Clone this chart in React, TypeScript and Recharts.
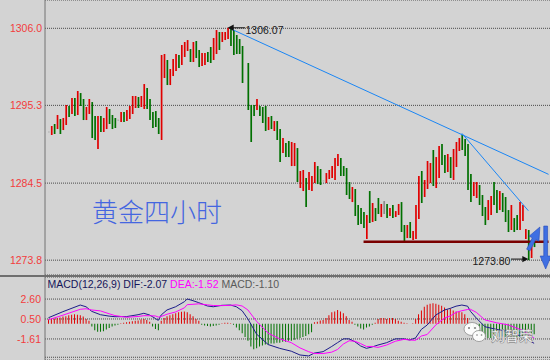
import React from "react";
import {
  Bar,
  CartesianGrid,
  Cell,
  ComposedChart,
  Line,
  ReferenceLine,
  XAxis,
  YAxis,
} from "recharts";

const FONT = '"Liberation Sans", Arial, sans-serif';

// price pane ticks, macd pane ticks (last macd one is a grid line without label)
const priceTicks = [1273.8, 1284.5, 1295.3, 1306.0];
const macdTicks = [-3.54, -1.61, 0.5, 2.6];
const macdUnlabeled = -3.54;

// 4h candles, one per slot (null = empty slot)
const highs = [
  1291.65, 1292.43, 1292.71, 1293.96, 1293.4, 1293.54, 1295.35, 1295.21, 1296.32, 1296.32,
  1297.29, 1297.01, 1296.18, 1295.07, 1296.18, 1295.76, 1293.82, 1293.82, 1293.82, 1293.54,
  1295.07, 1294.79, 1293.96, 1293.54, 1293.3, 1294.37, 1294.37, 1294.65, 1295.21, 1296.6,
  1296.6, 1296.46, 1296.6, 1298.26, 1297.71, 1296.18, 1294.37, 1294.51, 1293.54, 1302.29,
  1302.43, 1301.6, 1300.35, 1301.74, 1302.43, 1302.29, 1303.68, 1304.1, 1304.37, 1303.12,
  1304.1, 1304.24, 1302.99, 1302.57, 1302.57, 1302.71, 1303.4, 1304.65, 1305.76, 1305.49,
  1305.49, 1305.49, 1306.07, 1305.95, 1305.76, 1305.07, 1304.51, 1303.54, null, 1301.18,
  1295.35, 1295.35, 1296.18, 1295.21, 1295.07, 1295.21, 1293.68, 1293.82, 1293.12, 1293.12,
  1292.01, 1290.76, 1290.07, 1290.35, 1290.21, 1290.07, 1289.37, 1286.18, 1286.32, 1285.21,
  1286.04, 1285.49, 1287.43, 1286.87, 1286.46, 1284.85, 1285.9, 1286.32, 1286.87, 1287.99,
  1288.54, 1287.99, 1286.87, 1286.6, 1284.65, 1283.96, 1283.68, 1281.46, 1281.04, 1280.49,
  1280.07, 1283.4, 1281.74, 1281.04, 1282.43, 1281.6, 1282.01, 1281.6, 1281.04, 1281.46,
  1280.62, 1281.6, 1281.87, 1278.68, 1278.68, 1279.1, 1277.85, 1281.46, 1285.49, 1286.18,
  1284.93, 1287.57, 1287.29, 1289.1, 1288.12, 1289.65, 1289.93, 1288.4, 1288.54, 1288.12,
  1289.24, 1290.21, 1290.76, 1291.18, 1290.62, 1289.93, 1285.76, 1284.65, 1284.65, 1284.24,
  1282.85, 1281.18, 1282.15, 1282.71, 1284.65, 1283.54, 1283.4, 1283.12, 1282.57, 1280.76,
  1281.46, 1279.65, 1280.07, 1281.87, 1281.46, 1278.12, 1277.99, 1276.18, 1276.32,
];
const lows = [
  1291.55, 1291.18, 1291.32, 1292.01, 1291.32, 1291.87, 1292.57, 1293.68, 1294.1, 1293.82,
  1293.96, 1295.21, 1293.26, 1293.26, 1294.1, 1290.76, 1290.49, 1289.24, 1291.6, 1291.6,
  1292.01, 1292.71, 1292.01, 1292.15, 1293.2, 1292.99, 1292.99, 1293.12, 1293.4, 1294.1,
  1294.93, 1294.93, 1295.07, 1294.79, 1294.79, 1293.26, 1292.15, 1292.29, 1291.32, 1290.49,
  1299.1, 1298.12, 1298.12, 1299.37, 1300.07, 1300.49, 1300.9, 1302.01, 1302.85, 1301.32,
  1301.32, 1301.87, 1300.62, 1300.76, 1300.9, 1301.32, 1301.18, 1301.6, 1302.43, 1302.99,
  1304.1, 1304.37, 1304.51, 1303.54, 1302.29, 1302.43, 1302.43, 1298.4, null, 1294.65,
  1290.21, 1293.82, 1294.65, 1293.82, 1292.85, 1291.74, 1291.87, 1292.01, 1291.74, 1290.49,
  1287.43, 1288.68, 1288.12, 1288.12, 1286.87, 1286.87, 1284.65, 1283.82, 1283.4, 1281.18,
  1283.54, 1283.4, 1284.51, 1284.37, 1284.24, 1284.75, 1284.51, 1285.07, 1285.21, 1284.93,
  1286.87, 1285.49, 1285.49, 1282.85, 1282.29, 1281.87, 1279.93, 1278.68, 1278.82, 1278.26,
  1276.74, 1278.96, 1279.1, 1279.24, 1280.21, 1279.79, 1280.21, 1279.65, 1279.93, 1279.65,
  1279.79, 1280.07, 1277.71, 1276.46, 1276.87, 1276.87, 1276.6, 1276.74, 1279.51, 1281.74,
  1282.57, 1283.68, 1284.51, 1284.1, 1283.82, 1285.21, 1287.01, 1285.9, 1286.04, 1285.21,
  1284.93, 1286.74, 1288.96, 1289.1, 1288.26, 1283.54, 1281.87, 1282.71, 1282.43, 1281.46,
  1279.93, 1278.68, 1279.37, 1280.07, 1281.46, 1280.35, 1280.76, 1280.49, 1279.1, 1277.71,
  1277.99, 1277.71, 1277.99, 1277.99, 1279.24, 1276.74, 1273.8, 1274.1, 1275.62,
];
// 1 = up (red), -1 = down (green), 0 = doji (grey)
const dirs = [
  0, 1, -1, 1, -1, 1, 1, -1, 1, -1,
  1, -1, -1, 1, 1, -1, -1, 1, -1, 1,
  1, -1, -1, -1, 0, 1, -1, 1, 1, 1,
  1, -1, 1, 1, -1, -1, -1, -1, -1, 1,
  1, -1, 1, 1, 1, -1, 1, 1, 1, -1,
  1, -1, -1, 1, 1, -1, -1, 1, 1, -1,
  1, 1, 1, -1, -1, -1, -1, -1, 0, -1,
  -1, -1, 1, -1, -1, -1, 1, -1, 1, -1,
  -1, 1, -1, -1, 1, 1, -1, 1, 1, -1,
  1, 1, 1, -1, -1, 0, 1, 1, 1, 1,
  1, -1, -1, -1, -1, 1, -1, -1, -1, -1,
  1, -1, 1, -1, -1, 1, 0, -1, 1, -1,
  1, 1, -1, -1, 1, -1, 1, 1, 1, -1,
  1, 1, 1, -1, 1, 1, -1, -1, 1, -1,
  1, 1, 1, -1, -1, -1, -1, 1, 1, -1,
  -1, -1, 1, 1, -1, -1, 1, -1, -1, -1,
  1, -1, -1, 1, 1, 1, -1, 1, -1,
];

// MACD histogram, one per slot
const macdHist = [
  0.45, 0.5, 0.55, 0.6, 0.65, 0.75, 0.8, 0.9, 0.95, 1.0,
  0.95, 0.9, 0.75, 0.5, 0.3, -0.3, -0.7, -0.85, -0.85, -0.8,
  -0.6, -0.45, -0.3, -0.2, -0.1, 0.05, 0.1, 0.15, 0.2, 0.25,
  0.3, 0.35, 0.45, 0.5, 0.4, 0.2, -0.3, -0.55, -0.7, 0.3,
  0.6, 0.8, 0.9, 1.0, 1.1, 1.2, 1.25, 1.3, 1.2, 1.0,
  0.8, 0.5, 0.3, -0.1, -0.2, -0.25, -0.3, -0.25, -0.2, -0.1,
  0.05, 0.1, 0.1, 0.05, -0.1, -0.4, -0.7, -1.0, -1.4, -1.8,
  -2.4, -2.7, -2.6, -2.4, -2.3, -2.2, -2.2, -2.1, -2.1, -2.0,
  -2.0, -1.9, -1.9, -1.8, -1.8, -1.7, -1.6, -1.5, -1.4, -1.3,
  -1.1, -0.9, 0.15, 0.2, 0.35, 0.4, 0.6, 0.9, 1.2, 1.3,
  1.45, 1.3, 1.1, 0.8, 0.4, 0.2, -0.1, -0.3, -0.5, -0.6,
  -0.4, -0.3, -0.1, 0.1, 0.5, 0.6, 0.6, 0.5, 0.6, 0.6,
  0.5, 0.3, 0.2, 0.1, 0.05, 0, 0.05, 0.5, 1.0, 1.4,
  1.8, 2.0, 2.1, 2.15, 2.1, 2.0, 1.9, 1.7, 1.5, 1.6,
  1.4, 1.3, 1.3, 1.2, 1.0, 0.6, -0.3, -0.6, -0.9, -1.1,
  -1.3, -1.4, -1.5, -1.5, -1.45, -1.4, -1.4, -1.35, -1.4, -1.45,
  -1.5, -1.5, -1.45, -1.4, -1.35, -1.3, -1.25, -1.15, -1.1,
];

// DIF / DEA read at these slots
const lineSlots = [
  0, 5, 11, 13, 15, 18, 21, 23, 27, 31, 33, 35, 37, 38, 39, 41, 44, 47, 48, 50,
  52, 55, 57, 60, 63, 65, 67, 69, 72, 76, 80, 84, 87, 90, 92, 95, 98, 100, 102, 104,
  106, 108, 110, 112, 114, 117, 120, 123, 125, 127, 129, 131, 134, 137, 139, 141, 143, 145, 146, 148,
  151, 155, 159, 164, 168,
];
const difValues = [
  0.63, 1.27, 1.97, 1.79, 1.3, 0.95, 0.8, 0.74, 0.75, 0.95, 1.1, 0.92, 0.55, 0.35, 0.92, 1.45, 1.79, 2.32, 2.61, 2.43,
  2.22, 1.87, 1.79, 1.94, 1.97, 1.79, 1.37, 0.5, -1.1, -2.2, -2.6, -2.9, -3.3, -3.4, -3.1, -2.95, -2.4, -2.0, -1.6, -1.6,
  -1.9, -2.35, -2.6, -2.45, -2.25, -2.0, -1.6, -1.6, -1.72, -1.5, -0.6, -0.14, 0.92, 1.45, 1.62, 1.85, 1.97, 1.85, 1.3, 0.6,
  -0.32, -0.6, -0.84, -1.37, -2.07,
];
const deaValues = [
  0.41, 0.9, 1.52, 1.58, 1.45, 1.35, 1.05, 0.86, 0.68, 0.76, 0.85, 0.84, 0.82, 0.7, 0.76, 1.0, 1.24, 1.67, 2.01, 2.05,
  2.1, 1.99, 1.92, 1.91, 1.94, 1.99, 1.87, 1.45, 0.25, -1.0, -1.6, -2.0, -2.55, -2.95, -3.15, -3.15, -3.0, -2.72, -2.15, -1.8,
  -1.85, -2.1, -2.4, -2.4, -2.5, -2.25, -1.85, -1.65, -1.72, -1.75, -1.3, -1.14, -0.13, 0.6, 0.82, 1.2, 1.37, 1.5, 1.52, 1.2,
  0.4, 0.1, -0.12, -0.7, -1.52,
];

// empty slots after the last candle so the drawn lines reach the right edge
const EXTRA_SLOTS = 5;

// annotations, in slot / price units
const peakMark = { from: 62, to: 68, price: 1306.07 };
const lowMark = { from: 160, to: 166, price: 1273.95, text: "1273.80" };
const longTrend = [{ x: 63, y: 1305.94 }, { x: 173, y: 1285.72 }];
const shortTrend = [{ x: 143, y: 1291.42 }, { x: 166, y: 1280.67 }];
const supportLine = [{ x: 109, y: 1276.36 }, { x: 173, y: 1276.36 }];
const upArrow = [{ x: 166, y: 1275.21 }, { x: 170, y: 1278.4 }];
const downArrow = [{ x: 172, y: 1278.54 }, { x: 172, y: 1272.57 }];

const UP = "#e00000";
const DOWN = "#007000";
const FLAT = "#8c8c8c";

const rows = Array.from({ length: highs.length + EXTRA_SLOTS }, (_, i) => {
  const h = highs[i];
  const l = lows[i];
  const j = lineSlots.indexOf(i);
  return {
    slot: i,
    range: h != null && l != null ? [l, h] : null,
    dir: dirs[i] ?? 0,
    macd: macdHist[i] ?? null,
    dif: j >= 0 ? difValues[j] : null,
    dea: j >= 0 ? deaValues[j] : null,
  };
});

const candleColor = (d: number) => (d > 0 ? UP : d < 0 ? DOWN : FLAT);

// small black pointer with a price label
function pointer(label: string, tipAtStart: boolean) {
  return (p: any) => {
    const { x1, y1, x2 } = p;
    const y = y1;
    if (tipAtStart) {
      return (
        <g>
          <line x1={x1 + 5} y1={y} x2={x2} y2={y} stroke="#111" strokeWidth={1} />
          <polygon points={`${x1},${y} ${x1 + 6},${y - 3.2} ${x1 + 6},${y + 3.2}`} fill="#111" />
          <text x={x2 + 0.5} y={y + 2} dominantBaseline="central" fontSize={10.5} fontFamily={FONT} fill="#1a1a1a">
            {label}
          </text>
        </g>
      );
    }
    return (
      <g>
        <line x1={x1} y1={y} x2={x2 - 5} y2={y} stroke="#111" strokeWidth={1} />
        <polygon points={`${x2},${y} ${x2 - 6},${y - 3.2} ${x2 - 6},${y + 3.2}`} fill="#111" />
        <text x={x1 - 0.5} y={y + 1.5} textAnchor="end" dominantBaseline="central" fontSize={10.5} fontFamily={FONT} fill="#1a1a1a">
          {label}
        </text>
      </g>
    );
  };
}

// fat blue arrow from (x1,y1) to tip (x2,y2)
const blockArrow = (p: any) => {
  const { x1, y1, x2, y2 } = p;
  const dx = x2 - x1;
  const dy = y2 - y1;
  const len = Math.hypot(dx, dy) || 1;
  const ux = dx / len;
  const uy = dy / len;
  const nx = -uy;
  const ny = ux;
  const head = 13;
  const hw = 5.5;
  const sw = 1.9;
  const bx = x2 - ux * head;
  const by = y2 - uy * head;
  const pts = [
    [x1 + nx * sw, y1 + ny * sw],
    [bx + nx * sw, by + ny * sw],
    [bx + nx * hw, by + ny * hw],
    [x2, y2],
    [bx - nx * hw, by - ny * hw],
    [bx - nx * sw, by - ny * sw],
    [x1 - nx * sw, y1 - ny * sw],
  ];
  return (
    <polygon
      points={pts.map((q) => q.join(",")).join(" ")}
      fill="#3f6fe2"
      stroke="#2448b8"
      strokeWidth={0.6}
    />
  );
};

const axisTick = { fill: "#f23c3c", fontSize: 10.5, fontFamily: FONT };

export default function App() {
  return (
    <div
      style={{
        position: "absolute",
        left: 0,
        top: 0,
        width: 550,
        height: 360,
        overflow: "hidden",
        background: "#d3d3d3",
        fontFamily: FONT,
      }}
    >
      <ComposedChart width={550} height={275} data={rows} margin={{ top: 0, right: 0, bottom: 0, left: 0 }}>
        <CartesianGrid vertical={false} stroke="#4a4a4a" strokeDasharray="1 1" />
        <XAxis dataKey="slot" hide padding={{ left: 2, right: 0 }} />
        <YAxis
          width={45}
          domain={[1271.74, 1309.93]}
          allowDataOverflow
          ticks={priceTicks}
          interval={0}
          tickFormatter={(v: number) => v.toFixed(1)}
          tickLine={false}
          tickSize={0}
          tickMargin={3}
          axisLine={{ stroke: "#737373", strokeWidth: 1 }}
          tick={axisTick}
        />
        <Bar dataKey="range" barSize={1.7} isAnimationActive={false}>
          {rows.map((r, i) => (
            <Cell key={i} fill={candleColor(r.dir)} />
          ))}
        </Bar>
        <ReferenceLine segment={longTrend} stroke="#1a86f5" strokeWidth={1} />
        <ReferenceLine segment={shortTrend} stroke="#1a86f5" strokeWidth={1} />
        <ReferenceLine segment={supportLine} stroke="#7a0000" strokeWidth={2.5} />
        <ReferenceLine
          segment={[{ x: peakMark.from, y: peakMark.price }, { x: peakMark.to, y: peakMark.price }]}
          shape={pointer(peakMark.price.toFixed(2), true)}
        />
        <ReferenceLine
          segment={[{ x: lowMark.from, y: lowMark.price }, { x: lowMark.to, y: lowMark.price }]}
          shape={pointer(lowMark.text, false)}
        />
        <ReferenceLine segment={upArrow} shape={blockArrow} />
        <ReferenceLine segment={downArrow} shape={blockArrow} />
      </ComposedChart>
      <div style={{ height: 2, background: "#6f6f6f" }} />
      <ComposedChart width={550} height={83} data={rows} margin={{ top: 0, right: 0, bottom: 0, left: 0 }}>
        <CartesianGrid vertical={false} stroke="#4a4a4a" strokeDasharray="1 1" />
        <XAxis dataKey="slot" hide padding={{ left: 2, right: 0 }} />
        <YAxis
          width={45}
          domain={[-3.83, 4.93]}
          allowDataOverflow
          ticks={macdTicks}
          interval={0}
          tickFormatter={(v: number) => (v === macdUnlabeled ? "" : v.toFixed(2))}
          tickLine={false}
          tickSize={0}
          tickMargin={4}
          axisLine={{ stroke: "#737373", strokeWidth: 1 }}
          tick={axisTick}
        />
        <Bar dataKey="macd" barSize={1} isAnimationActive={false}>
          {rows.map((r, i) => (
            <Cell key={i} fill={(r.macd ?? 0) >= 0 ? UP : DOWN} />
          ))}
        </Bar>
        <Line dataKey="dif" stroke="#1c1c8a" strokeWidth={1} dot={false} connectNulls isAnimationActive={false} />
        <Line dataKey="dea" stroke="#ff00ff" strokeWidth={1} dot={false} connectNulls isAnimationActive={false} />
      </ComposedChart>

      <svg
        width={550}
        height={360}
        style={{ position: "absolute", left: 0, top: 0, pointerEvents: "none" }}
      >
        <text
          x={92}
          y={210}
          dominantBaseline="central"
          fontSize={26}
          fontWeight={300}
          fontFamily='"Noto Sans CJK SC", sans-serif'
          fill="#4466e0"
        >
          黄金四小时
        </text>
        <text x={47.5} y={288} fontSize={10.5} fontFamily={FONT}>
          <tspan fill="#16165a">MACD(12,26,9) DIF:-2.07 </tspan>
          <tspan fill="#ff00ff">DEA:-1.52 </tspan>
          <tspan fill="#5a5a5a">MACD:-1.10</tspan>
        </text>
        <g opacity={0.95}>
          <ellipse cx={472} cy={329} rx={8} ry={6.5} fill="#ffffff" stroke="#8a8a8a" strokeWidth={0.8} />
          <ellipse cx={479} cy={336} rx={6.5} ry={5.5} fill="#ffffff" stroke="#8a8a8a" strokeWidth={0.8} />
          <circle cx={469} cy={328} r={1} fill="#777" />
          <circle cx={475} cy={328} r={1} fill="#777" />
          <circle cx={477} cy={335} r={0.8} fill="#777" />
          <circle cx={481.5} cy={335} r={0.8} fill="#777" />
          <text
            x={491}
            y={335}
            dominantBaseline="central"
            fontSize={14}
            fontWeight={700}
            fontFamily='"Noto Sans CJK SC", sans-serif'
            fill="#ffffff"
            stroke="#8a8a8a"
            strokeWidth={0.6}
          >
            刘智荣
          </text>
        </g>
      </svg>
    </div>
  );
}
